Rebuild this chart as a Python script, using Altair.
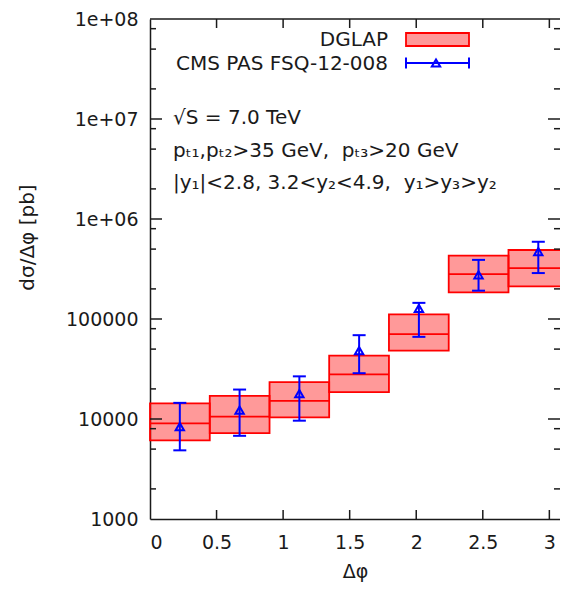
import altair as alt
import pandas as pd

# ---------------- data ----------------
bin_lo = [0.0, 0.449, 0.898, 1.346, 1.795, 2.244, 2.693]
bin_hi = [0.449, 0.898, 1.346, 1.795, 2.244, 2.693, 3.1416]
dglap_center = [9060, 10540, 15200, 27900, 70500, 281000, 322000]
dglap_low = [6100, 7220, 10400, 18600, 48200, 185000, 212000]
dglap_high = [14300, 17000, 23400, 43000, 111000, 430000, 490000]

cms_x = [0.224, 0.673, 1.122, 1.571, 2.020, 2.468, 2.917]
cms_y = [8390, 12300, 17900, 48200, 127600, 277000, 471000]
cms_low = [4860, 6790, 9620, 28700, 66300, 192000, 288000]
cms_high = [14500, 19700, 26700, 68900, 145000, 390000, 592000]

x_domain = [0, 3.08]          # visible part of the 0..pi axis (the picture is cropped at the right)
y_domain = [1000, 1e8]
x_ticks = [0, 0.5, 1, 1.5, 2, 2.5, 3]
y_major = [1e3, 1e4, 1e5, 1e6, 1e7, 1e8]
y_minor = [2e3, 5e3, 8e3, 2e4, 5e4, 8e4, 2e5, 5e5, 8e5,
           2e6, 5e6, 8e6, 2e7, 5e7, 8e7]

x_title = "Δφ"
y_title = "dσ/Δφ [pb]"
legend_labels = ["DGLAP", "CMS PAS FSQ-12-008"]
notes = ["√S = 7.0 TeV",
         "pₜ₁,pₜ₂>35 GeV,\u00a0\u00a0pₜ₃>20 GeV",
         "|y₁|<2.8,\u00a03.2<y₂<4.9,\u00a0\u00a0y₁>y₃>y₂"]

# ---------------- styling ----------------
W, H = 410, 500
FONT = "DejaVu Sans"
RED = "#ff0000"
BLUE = "#0000ff"
INK = "#1a1a1a"

dglap = pd.DataFrame({"lo": bin_lo, "hi": bin_hi, "c": dglap_center,
                      "l": dglap_low, "h": dglap_high})
cms = pd.DataFrame({"x": cms_x, "y": cms_y, "l": cms_low, "h": cms_high})

xs = alt.Scale(domain=x_domain, nice=False, zero=False)
ys = alt.Scale(type="log", domain=y_domain, nice=False)

x_axis = alt.Axis(values=x_ticks, format="~g", ticks=False, grid=False,
                  labelPadding=14, title=x_title, titleY=52,
                  titleBaseline="middle", titleFontSize=19,
                  titleFontWeight="normal", domainColor=INK, domainWidth=1.5)
y_axis = alt.Axis(values=y_major,
                  labelExpr="datum.value >= 1000000 ? replace(format(datum.value, '.0e'), 'e+', 'e+0') : format(datum.value, 'd')",
                  ticks=False, grid=False, labelPadding=12, title=y_title,
                  titleX=-123, titleY=218, titleBaseline="middle",
                  titleFontSize=20, titleFontWeight="normal",
                  domainColor=INK, domainWidth=1.5)


def X(f):
    return alt.X(f, scale=xs, axis=x_axis)


def Y(f):
    return alt.Y(f, scale=ys, axis=y_axis)


boxes = alt.Chart(dglap).mark_rect(
    fill=RED, fillOpacity=0.4, stroke=RED, strokeWidth=1.8
).encode(x=X("lo:Q"), x2="hi:Q", y=Y("l:Q"), y2="h:Q")
centers = alt.Chart(dglap).mark_rule(color=RED, strokeWidth=1.8).encode(
    x=X("lo:Q"), x2="hi:Q", y=Y("c:Q"))
errs = alt.Chart(cms).mark_rule(color=BLUE, strokeWidth=2).encode(
    x=X("x:Q"), y=Y("l:Q"), y2="h:Q")
cap_lo = alt.Chart(cms).mark_tick(color=BLUE, orient="horizontal", size=13,
                                  thickness=2, opacity=1).encode(
    x=X("x:Q"), y=Y("l:Q"))
cap_hi = alt.Chart(cms).mark_tick(color=BLUE, orient="horizontal", size=13,
                                  thickness=2, opacity=1).encode(
    x=X("x:Q"), y=Y("h:Q"))
pts = alt.Chart(cms).mark_point(shape="triangle-up", filled=False, size=70,
                                color=BLUE, strokeWidth=2, opacity=1).encode(
    x=X("x:Q"), y=Y("y:Q"))

# inward ticks on all sides
xt = pd.DataFrame({"v": x_ticks[1:]})
ymaj = pd.DataFrame({"v": y_major[1:-1]})
ymin = pd.DataFrame({"v": y_minor})
tick_style = dict(color=INK, strokeWidth=1.5)
xt_bot = alt.Chart(xt).mark_rule(**tick_style).encode(
    x=X("v:Q"), y=alt.value(H), y2=alt.value(H - 9))
xt_top = alt.Chart(xt).mark_rule(**tick_style).encode(
    x=X("v:Q"), y=alt.value(0), y2=alt.value(9))
yM_l = alt.Chart(ymaj).mark_rule(**tick_style).encode(
    y=Y("v:Q"), x=alt.value(0), x2=alt.value(12))
yM_r = alt.Chart(ymaj).mark_rule(**tick_style).encode(
    y=Y("v:Q"), x=alt.value(W), x2=alt.value(W - 12))
ym_l = alt.Chart(ymin).mark_rule(**tick_style).encode(
    y=Y("v:Q"), x=alt.value(0), x2=alt.value(6))
ym_r = alt.Chart(ymin).mark_rule(**tick_style).encode(
    y=Y("v:Q"), x=alt.value(W), x2=alt.value(W - 6))
one = pd.DataFrame({"k": [0]})
top_border = alt.Chart(one).mark_rule(color=INK, strokeWidth=1.5).encode(
    x=alt.value(0), x2=alt.value(W), y=alt.value(0))

# legend
txt = dict(font=FONT, fontSize=20, color=INK, baseline="middle")
leg_t1 = alt.Chart(one).mark_text(text=legend_labels[0], align="right", **txt).encode(
    x=alt.value(238), y=alt.value(21))
leg_t2 = alt.Chart(one).mark_text(text=legend_labels[1], align="right", **txt).encode(
    x=alt.value(238), y=alt.value(45))
leg_box = alt.Chart(one).mark_rect(fill=RED, fillOpacity=0.4, stroke=RED,
                                   strokeWidth=1.8).encode(
    x=alt.value(256), x2=alt.value(319), y=alt.value(14), y2=alt.value(27))
leg_line = alt.Chart(one).mark_rule(color=BLUE, strokeWidth=2).encode(
    x=alt.value(256), x2=alt.value(319), y=alt.value(44))
leg_cap1 = alt.Chart(one).mark_rule(color=BLUE, strokeWidth=2).encode(
    x=alt.value(256), y=alt.value(38.5), y2=alt.value(49.5))
leg_cap2 = alt.Chart(one).mark_rule(color=BLUE, strokeWidth=2).encode(
    x=alt.value(319), y=alt.value(38.5), y2=alt.value(49.5))
leg_pt = alt.Chart(one).mark_point(shape="triangle-up", filled=False, size=70,
                                   color=BLUE, strokeWidth=2, opacity=1).encode(
    x=alt.value(286), y=alt.value(44))

# annotations
note_layers = [
    alt.Chart(one).mark_text(text=t, align="left", **txt).encode(
        x=alt.value(23), y=alt.value(yy))
    for t, yy in zip(notes, [99, 132, 164])
]

chart = alt.layer(
    boxes, centers, errs, cap_lo, cap_hi, pts,
    xt_bot, xt_top, yM_l, yM_r, ym_l, ym_r, top_border,
    leg_box, leg_line, leg_cap1, leg_cap2, leg_pt, leg_t1, leg_t2,
    *note_layers,
).properties(
    width=W, height=H,
    autosize=alt.AutoSizeParams(type="none"),
    padding={"left": 142, "top": 11, "right": 0, "bottom": 64},
    background="white",
).configure_view(stroke=None).configure_axis(
    labelFont=FONT, labelFontSize=19, labelColor=INK,
    titleFont=FONT, titleColor=INK,
)

chart.save("out.html", embed_options={"renderer": "svg", "actions": False})
